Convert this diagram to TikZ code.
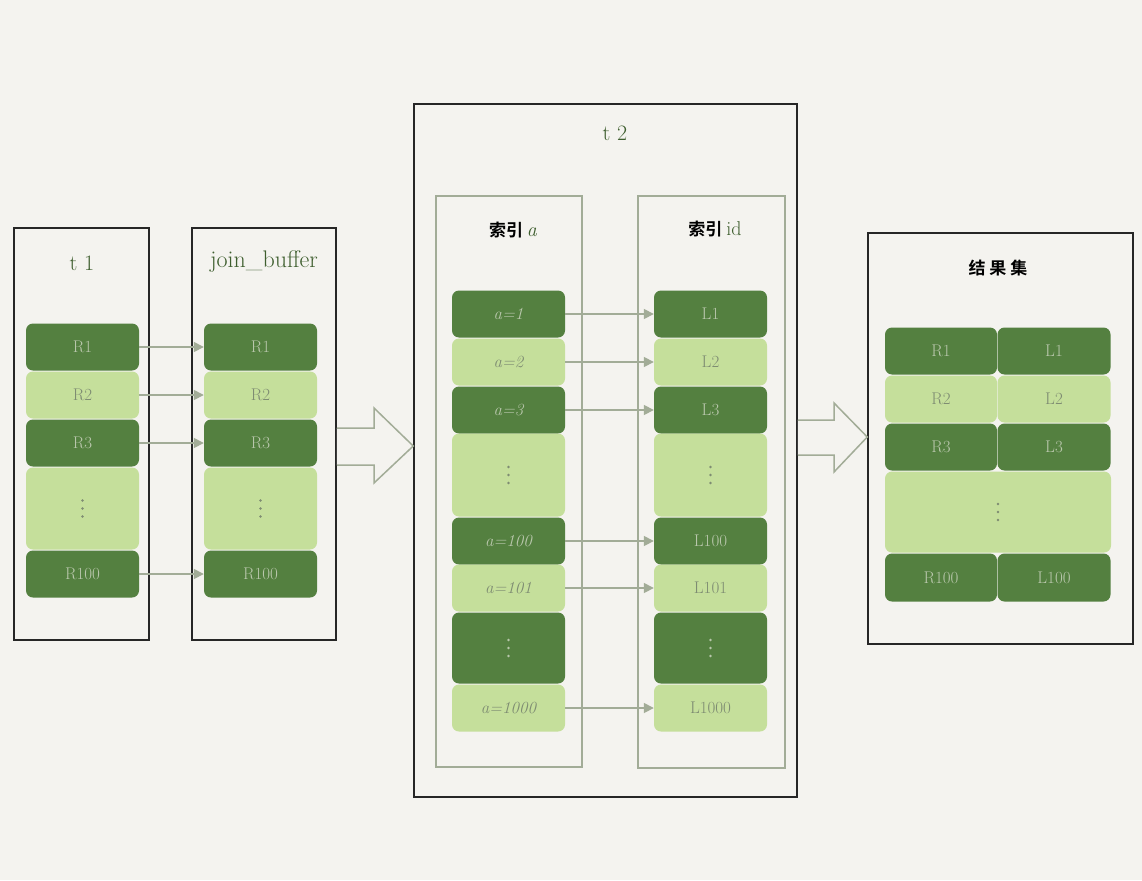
\documentclass[tikz,border=0pt]{standalone}
\usepackage{fontspec}
\newfontfamily\cjk{Noto Sans CJK SC}[BoldFont={Noto Sans CJK SC Bold}]
\usetikzlibrary{arrows.meta}
\definecolor{bg}{HTML}{F4F3EF}
\definecolor{dk}{HTML}{548040}
\definecolor{lt}{HTML}{C5DF9B}
\definecolor{txtdk}{HTML}{B9C7AC}
\definecolor{txtlt}{HTML}{7E8C72}
\definecolor{arrowc}{HTML}{A2AC97}
\definecolor{titlec}{HTML}{3E5E2E}
\newcommand\threedots[2]{\foreach \dy in {-8,0,8} \fill[#2] ([yshift=\dy pt]#1.center) circle (1.3pt);}
\begin{document}
\begin{tikzpicture}[x=1pt,y=-1pt,
  row/.style={rounded corners=7pt, minimum width=113pt, minimum height=47pt, inner sep=0pt, font=\fontsize{17}{17}\selectfont},
  dk/.style={row, fill=dk, text=txtdk},
  lt/.style={row, fill=lt, text=txtlt},
  link/.style={draw=arrowc, line width=1.6pt, -{Triangle[length=10pt,width=10pt]}},
  outer/.style={draw=black!85, line width=1.5pt, inner sep=0pt},
  idx/.style={draw=arrowc, line width=1.6pt, inner sep=0pt},
  hollow/.style={fill=bg, draw=arrowc, line width=1.5pt, line join=miter},
  ttl/.style={text=titlec, inner sep=0pt},
  cn/.style={font=\cjk\bfseries\fontsize{17}{17}\selectfont, inner sep=0pt}]
\useasboundingbox[fill=bg] (0,0) rectangle (1142,880);
% outer boxes
\node[outer, minimum width=135pt, minimum height=412pt] (t1) at (81.5,434) {};
\node[outer, minimum width=144pt, minimum height=412pt] (jb) at (264,434) {};
\node[outer, minimum width=383pt, minimum height=693pt] (t2) at (605.5,450.5) {};
\node[idx, minimum width=146pt, minimum height=571pt] (ia) at (509,481.5) {};
\node[idx, minimum width=147pt, minimum height=572pt] (iid) at (711.5,482) {};
\node[outer, minimum width=265pt, minimum height=411pt] (res) at (1000.5,438.5) {};
% titles
\node[ttl, font=\fontsize{22}{22}\selectfont] (t1t) at (82,263) {t 1};
\node[ttl, font=\fontsize{24}{24}\selectfont] (jbt) at (264,262) {join\_buffer};
\node[ttl, font=\fontsize{22}{22}\selectfont] (t2t) at (615,133) {t 2};
\node[cn] (iat) at (513,230) {索引 \textnormal{\fontsize{20}{20}\selectfont\color{titlec}\itshape a}};
\node[cn] (iidt) at (715,229) {索引 \textnormal{\fontsize{20}{20}\selectfont\color{titlec} id}};
\node[cn] (rest) at (998,268) {结 果 集};
% t1 rows
\node[dk] (a1) at (82.5,347) {R1};
\node[lt] (a2) at (82.5,395) {R2};
\node[dk] (a3) at (82.5,443) {R3};
\node[lt, minimum height=82pt] (ad) at (82.5,508.5) {};
\node[dk] (a100) at (82.5,574) {R100};
% join buffer rows
\node[dk] (b1) at (260.5,347) {R1};
\node[lt] (b2) at (260.5,395) {R2};
\node[dk] (b3) at (260.5,443) {R3};
\node[lt, minimum height=82pt] (bd) at (260.5,508.5) {};
\node[dk] (b100) at (260.5,574) {R100};
\foreach \s in {1,2,3,100} \draw[link] (a\s.east) -- (b\s.west);
% index a rows
\node[dk] (c1) at (508.5,314) {\itshape a=1};
\node[lt] (c2) at (508.5,362) {\itshape a=2};
\node[dk] (c3) at (508.5,410) {\itshape a=3};
\node[lt, minimum height=83pt] (cd1) at (508.5,475) {};
\node[dk] (c100) at (508.5,541) {\itshape a=100};
\node[lt] (c101) at (508.5,588) {\itshape a=101};
\node[dk, minimum height=71pt] (cd2) at (508.5,648) {};
\node[lt] (c1000) at (508.5,708) {\itshape a=1000};
% index id rows
\node[dk] (d1) at (710.5,314) {L1};
\node[lt] (d2) at (710.5,362) {L2};
\node[dk] (d3) at (710.5,410) {L3};
\node[lt, minimum height=83pt] (dd1) at (710.5,475) {};
\node[dk] (d100) at (710.5,541) {L100};
\node[lt] (d101) at (710.5,588) {L101};
\node[dk, minimum height=71pt] (dd2) at (710.5,648) {};
\node[lt] (d1000) at (710.5,708) {L1000};
\foreach \s in {1,2,3,100,101,1000} \draw[link] (c\s.east) -- (d\s.west);
% result rows
\node[dk, minimum width=112pt] (e1) at (941,351) {R1};
\node[dk, minimum width=113pt] (f1) at (1054,351) {L1};
\node[lt, minimum width=112pt] (e2) at (941,399) {R2};
\node[lt, minimum width=113pt] (f2) at (1054,399) {L2};
\node[dk, minimum width=112pt] (e3) at (941,447) {R3};
\node[dk, minimum width=113pt] (f3) at (1054,447) {L3};
\node[lt, minimum width=226pt, minimum height=81pt] (ed) at (998,512) {};
\node[dk, minimum width=112pt, minimum height=48pt] (e100) at (941,577.5) {R100};
\node[dk, minimum width=113pt, minimum height=48pt] (f100) at (1054,577.5) {L100};
% ellipsis dots
\threedots{ad}{txtlt}
\threedots{bd}{txtlt}
\threedots{cd1}{txtlt}
\threedots{dd1}{txtlt}
\threedots{cd2}{txtdk}
\threedots{dd2}{txtdk}
\threedots{ed}{txtlt}
% hollow arrows
\draw[hollow] (jb.east |- 0,428) -- (374,428) -- (374,408) -- (t2.west |- 0,446) -- (374,483) -- (374,465) -- (jb.east |- 0,465);
\draw[hollow] (t2.east |- 0,420) -- (834,420) -- (834,403) -- (res.west |- 0,437) -- (834,472) -- (834,455) -- (t2.east |- 0,455);
\end{tikzpicture}
\end{document}
